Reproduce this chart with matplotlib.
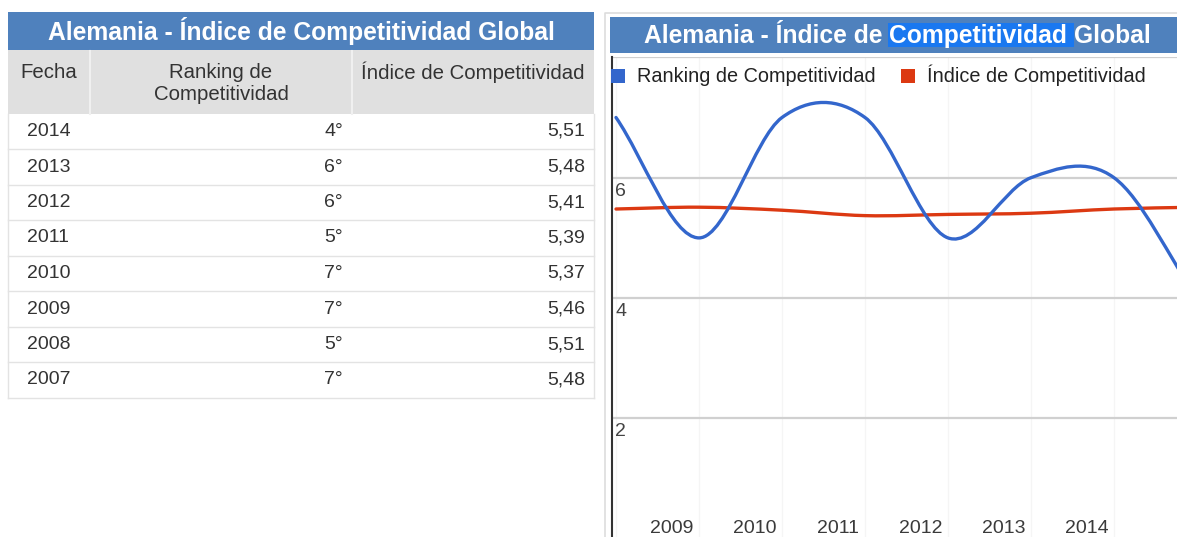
import matplotlib
matplotlib.use("Agg")
import matplotlib.pyplot as plt
from matplotlib.patches import Rectangle, Patch, PathPatch
from matplotlib.path import Path

plt.rcParams['font.family'] = ['Liberation Sans', 'DejaVu Sans']

# Datos (tabla, de 2014 a 2007)
anios = [2014, 2013, 2012, 2011, 2010, 2009, 2008, 2007]
ranking = [4, 6, 6, 5, 7, 7, 5, 7]
indice = [5.51, 5.48, 5.41, 5.39, 5.37, 5.46, 5.51, 5.48]
encabezados = ['Fecha', 'Ranking de\nCompetitividad', 'Índice de Competitividad']
titulo = 'Alemania - Índice de Competitividad Global'
etiquetas_x = ['2009', '2010', '2011', '2012', '2013', '2014']
ticks_y = [2, 4, 6, 8]

AZUL = '#3366cc'
ROJO = '#dc3912'
BARRA = '#4f81bd'
TXT = '#333333'
FS = 14
FT = 17.7

W, H = 1177, 537
fig = plt.figure(figsize=(W / 100, H / 100), dpi=100)

# capa en pixeles para la tabla y los marcos
bg = fig.add_axes([0, 0, 1, 1], zorder=0)
bg.set_xlim(0, W)
bg.set_ylim(H, 0)
bg.axis('off')

# ---- tabla izquierda ----
bg.add_patch(Rectangle((8, 12), 586, 38, color=BARRA, lw=0))
bg.text(301, 31, titulo, color='white', fontsize=FT, fontweight='bold',
        ha='center', va='center')
bg.add_patch(Rectangle((8, 50), 586, 64, color='#e0e0e0', lw=0))
for xd in (90, 352):
    bg.plot([xd, xd], [51, 114], color='#f0f0f0', lw=1.5)
cols_x = [49, 221, 473]
for cx, h in zip(cols_x, encabezados):
    yy = 83 if '\n' in h else 72
    bg.text(cx, yy, h, color=TXT, fontsize=14.7, ha='center', va='center',
            linespacing=1.2)

fila0, alto = 131.5, 35.5
for i, (a, r, v) in enumerate(zip(anios, ranking, indice)):
    yc = fila0 + i * alto
    bg.text(27, yc, str(a), color=TXT, fontsize=FS, ha='left', va='center')
    bg.text(343, yc, f'{r}°', color=TXT, fontsize=FS, ha='right', va='center')
    bg.text(585, yc, f'{v:.2f}'.replace('.', ','), color=TXT, fontsize=FS,
            ha='right', va='center')
    bg.plot([8, 594], [yc + alto / 2, yc + alto / 2], color='#e3e3e3', lw=1)
y_fin = fila0 + (len(anios) - 0.5) * alto
bg.plot([8, 8], [114, y_fin], color='#e3e3e3', lw=1)
bg.plot([594, 594], [114, y_fin], color='#e3e3e3', lw=1)

# ---- panel derecho: marco y barra de titulo ----
bg.plot([605, 605, W], [H, 13, 13], color='#dddddd', lw=1.2)
bg.add_patch(Rectangle((610, 17), W - 610, 36, color=BARRA, lw=0))

fig.canvas.draw()
rend = fig.canvas.get_renderer()
partes = ['Alemania - Índice de', 'Competitividad', 'Global']


def ancho(s):
    t = bg.text(0, 0, s, fontsize=FT, fontweight='bold')
    w = t.get_window_extent(rend).width
    t.remove()
    return w


esp = ancho('a a') - ancho('aa')
anchos = [ancho(p) for p in partes]
total = sum(anchos) + 2 * esp
x0 = 897 - total / 2
for k, (p, w) in enumerate(zip(partes, anchos)):
    if k == 1:
        bg.add_patch(Rectangle((x0 - 1, 23), w + esp + 1, 24, color='#1a78f0', lw=0))
    bg.text(x0, 36, p, color='white', fontsize=FT, fontweight='bold',
            ha='left', va='center')
    x0 += w + esp

# ---- grafico ----
x_anios = anios[::-1]
y_rank = ranking[::-1]
y_ind = indice[::-1]

px_ini, px_paso = 616, 83
x_izq = x_anios[0] - (px_ini - 612) / px_paso
x_der = x_anios[0] + (W - px_ini) / px_paso
y0_px, unidad = 538.9, 60.2  # valor 0 en pixel y (desde arriba), pixeles por unidad
ax = fig.add_axes([612 / W, (H - y0_px) / H, (W - 612) / W, 8 * unidad / H], zorder=1)
ax.patch.set_visible(False)
ax.set_xlim(x_izq, x_der)
ax.set_ylim(0, 8)
for s in ('top', 'right', 'bottom'):
    ax.spines[s].set_visible(False)
ax.spines['left'].set_color('#333333')
ax.spines['left'].set_linewidth(1.5)
ax.set_xticks([])
ax.set_yticks([])

for xv in x_anios:
    ax.axvline(xv, color='#f5f5f5', lw=1, zorder=0)
for yv in ticks_y:
    ax.axhline(yv, color='#d0d0d0', lw=1.6, zorder=0)
    if yv < 8:
        ax.text(x_izq + 0.04, yv - 0.08, str(yv), color='#444444', fontsize=FS,
                ha='left', va='top')
for lbl in etiquetas_x:
    ax.text(int(lbl) - 1.33, 0.17, lbl, color='#3a3a3a', fontsize=FS,
            ha='center', va='center')


def curva(xs, ys):
    # curva suave (Catmull-Rom) como trazado Bezier
    n = len(xs)
    m = []
    for i in range(n):
        a, b = max(i - 1, 0), min(i + 1, n - 1)
        m.append((ys[b] - ys[a]) / (xs[b] - xs[a]))
    verts = [(xs[0], ys[0])]
    codes = [Path.MOVETO]
    for i in range(n - 1):
        h = xs[i + 1] - xs[i]
        verts += [(xs[i] + h / 3, ys[i] + m[i] * h / 3),
                  (xs[i + 1] - h / 3, ys[i + 1] - m[i + 1] * h / 3),
                  (xs[i + 1], ys[i + 1])]
        codes += [Path.CURVE4] * 3
    return Path(verts, codes)


ax.add_patch(PathPatch(curva(x_anios, y_rank), fill=False, edgecolor=AZUL, lw=2.4,
                       capstyle='round', joinstyle='round', zorder=3))
ax.add_patch(PathPatch(curva(x_anios, y_ind), fill=False, edgecolor=ROJO, lw=2.4,
                       capstyle='round', joinstyle='round', zorder=2))

handles = [Patch(facecolor=AZUL, edgecolor='none', label='Ranking de Competitividad'),
           Patch(facecolor=ROJO, edgecolor='none', label='Índice de Competitividad')]
fig.legend(handles=handles, loc='upper left', bbox_to_anchor=(611 / W, (H - 65) / H),
           ncol=2, frameon=False, fontsize=14.3, handlelength=0.7, handleheight=0.7,
           handletextpad=0.6, columnspacing=1.3, borderpad=0, borderaxespad=0,
           labelcolor='#222222')

fig.savefig('out.png', dpi=100)
